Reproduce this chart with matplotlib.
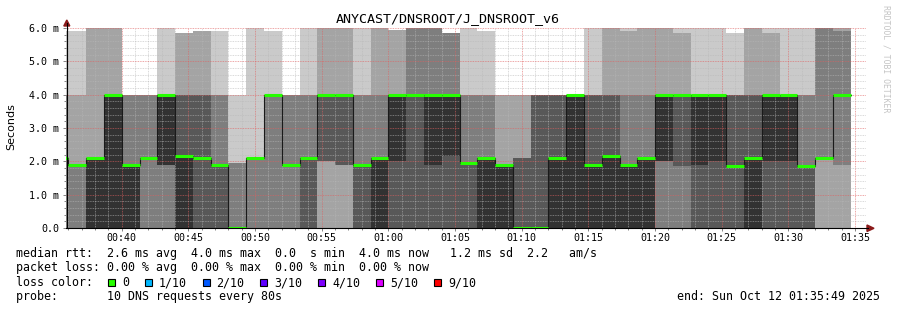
import numpy as np
import matplotlib
matplotlib.use("Agg")
import matplotlib.pyplot as plt
from matplotlib.ticker import MultipleLocator, FuncFormatter
from matplotlib.patches import Rectangle, Polygon

# smokeping style graph: 10 pings per 80s step, sorted rtt in ms
W, H = 897, 310

title = "ANYCAST/DNSROOT/J_DNSROOT_v6"
step_start = 34 * 60 + 40      # first step 00:34:40 (seconds after midnight)
step_len = 80
view_start = 35 * 60 + 49      # 00:35:49
view_end = 95 * 60 + 49        # 01:35:49

pings = [
    [0, 0, 0, 2.1, 2.1, 2.1, 2.1, 4, 4, 5.9],
    [0, 0, 0, 1.9, 1.9, 1.9, 1.9, 1.9, 4, 5.9],
    [0, 0, 0, 0, 0, 2.1, 2.1, 2.1, 6, 6],
    [0, 0, 0, 0, 0, 4, 4, 4, 6, 6],
    [0, 0, 0, 0, 0, 1.9, 1.9, 4, 4, 4],
    [0, 0, 0, 2.1, 2.1, 2.1, 2.1, 4, 4, 4],
    [0, 0, 0, 1.9, 1.9, 4, 4, 4, 4, 6],
    [0, 0, 0, 0, 0, 2.15, 4, 4, 5.85, 5.85],
    [0, 0, 0, 0, 2.1, 2.1, 4, 4, 5.9, 5.9],
    [0, 0, 0, 0, 1.9, 1.9, 1.9, 4, 4, 5.9],
    [0, 0, 0, 0, 0, 0, 0, 1.95, 1.95, 4],
    [0, 0, 0, 2.1, 2.1, 2.1, 2.1, 2.1, 2.1, 6],
    [0, 0, 0, 4, 4, 4, 4, 4, 4, 5.9],
    [0, 0, 0, 1.9, 1.9, 1.9, 1.9, 4, 4, 4],
    [0, 0, 0, 0, 2.1, 2.1, 2.1, 4, 4, 6],
    [0, 0, 2, 2, 4, 4, 4, 4, 6, 6],
    [0, 0, 1.9, 1.9, 4, 4, 4, 4, 6, 6],
    [0, 0, 0, 0, 1.9, 1.9, 1.9, 4, 4, 6],
    [0, 0, 0, 0, 0, 2.1, 2.1, 4, 6, 6],
    [0, 0, 0, 0, 2, 4, 4, 4, 5.95, 5.95],
    [0, 0, 0, 0, 4, 4, 4, 6, 6, 6],
    [0, 0, 0, 0, 1.9, 4, 4, 6, 6, 6],
    [0, 0, 0, 0, 2.15, 4, 4, 5.85, 5.85, 5.85],
    [0, 0, 0, 0, 1.94, 1.94, 1.94, 4, 4, 6],
    [0, 0, 0, 0, 0, 2.1, 2.1, 4, 4, 5.9],
    [0, 0, 0, 0, 0, 1.9, 1.9, 1.9, 4, 4],
    [0, 0, 0, 0, 0, 0, 2.1, 2.1, 4, 4],
    [0, 0, 0, 0, 0, 0, 4, 4, 4, 4],
    [0, 0, 0, 0, 0, 2.1, 4, 4, 4, 4],
    [0, 0, 0, 0, 0, 4, 4, 4, 4, 4],
    [0, 0, 0, 0, 0, 1.9, 4, 4, 4, 6],
    [0, 0, 0, 0, 0, 2.15, 4, 4, 6, 6],
    [0, 0, 0, 0, 0, 1.9, 1.9, 4, 5.9, 6],
    [0, 0, 0, 0, 0, 2.1, 2.1, 4, 6, 6],
    [0, 0, 0, 2, 2, 4, 4, 4, 6, 6],
    [0, 0, 0, 1.85, 4, 4, 4, 4, 5.85, 6],
    [0, 0, 0, 0, 1.9, 4, 4, 4, 4, 6],
    [0, 0, 0, 0, 2, 4, 4, 4, 4, 6],
    [0, 0, 0, 0, 1.85, 1.85, 4, 4, 4, 5.85],
    [0, 0, 0, 0, 0, 2.1, 4, 4, 6, 6],
    [0, 0, 0, 0, 2, 4, 4, 4, 5.85, 6],
    [0, 0, 0, 0, 2, 4, 4, 4, 4, 6],
    [0, 0, 0, 0, 1.85, 1.85, 1.85, 4, 4, 6],
    [0, 0, 2.1, 2.1, 2.1, 2.1, 2.1, 6, 6, 6],
    [0, 0, 1.9, 4, 4, 4, 4, 5.9, 6, 6],
]

smoke_cols = ["#cacaca", "#a4a4a4", "#7e7e7e", "#585858", "#323232"]
loss_labels = ["0", "1/10", "2/10", "3/10", "4/10", "5/10", "9/10"]
loss_cols = ["#26ff00", "#00b8ff", "#0059ff", "#5e00ff", "#7e00ff", "#dd00ff", "#ff0000"]

rtt_line = "median rtt:  2.6 ms avg  4.0 ms max  0.0  s min  4.0 ms now   1.2 ms sd  2.2   am/s"
loss_line = "packet loss: 0.00 % avg  0.00 % max  0.00 % min  0.00 % now"
probe_line = "probe:       10 DNS requests every 80s"
end_line = "end: Sun Oct 12 01:35:49 2025"

MONO = "DejaVu Sans Mono"


def fx(px):
    return px / W


def fy(py):
    return 1 - py / H


p = np.array(pings, dtype=float)
t = step_start + step_len * np.arange(len(p))
edges = np.append(t, t[-1] + step_len)

fig = plt.figure(figsize=(W / 100, H / 100), dpi=100)
ax = fig.add_axes([fx(66), fy(228), 800 / W, 200 / H])

# smoke bands, outer first, inner ones paint over
for i, col in enumerate(smoke_cols):
    lo = np.append(p[:, i], p[-1, i])
    hi = np.append(p[:, 9 - i], p[-1, 9 - i])
    ax.fill_between(edges, lo, hi, step="post", color=col, lw=0, zorder=1)

# median (smokeping takes the upper middle of the sorted pings)
med = p[:, 5]
ax.step(edges, np.append(med, med[-1]), where="post", color="#1a1a1a", lw=0.8, zorder=3)
ax.hlines(med, t, t + step_len, color=loss_cols[0], lw=2.2, zorder=4)

ax.set_xlim(view_start, view_end)
ax.set_ylim(0, 6.0)

ax.xaxis.set_major_locator(MultipleLocator(300))
ax.xaxis.set_minor_locator(MultipleLocator(60))
ax.yaxis.set_major_locator(MultipleLocator(1))
ax.yaxis.set_minor_locator(MultipleLocator(0.2))
ax.xaxis.set_major_formatter(FuncFormatter(lambda s, pos: "%02d:%02d" % (s // 3600, s % 3600 // 60)))
ax.yaxis.set_major_formatter(FuncFormatter(lambda v, pos: "0.0" if v == 0 else "%.1f m" % v))

ax.set_axisbelow(False)
ax.grid(which="minor", color="#b8b8b8", ls=(0, (1, 1)), lw=0.6, alpha=0.7)
ax.grid(which="major", color="#e06060", ls=(0, (1, 1)), lw=0.6, alpha=0.75)

for s in ax.spines.values():
    s.set_visible(False)
ax.tick_params(which="both", direction="out", color="#707070", width=0.6, labelsize=7.2)
ax.tick_params(which="major", length=2.5, pad=2.5)
ax.tick_params(axis="x", which="major", pad=1.2)
ax.tick_params(which="minor", length=1.2)
for lab in ax.get_xticklabels() + ax.get_yticklabels():
    lab.set_family(MONO)

# axes lines with arrows like rrdtool
fig.add_artist(plt.Line2D([fx(66.5), fx(66.5)], [fy(228), fy(23)], color="black", lw=0.8))
fig.add_artist(plt.Line2D([fx(66), fx(868)], [fy(228.3), fy(228.3)], color="black", lw=0.8))
fig.add_artist(Polygon([(fx(63.8), fy(26)), (fx(69.8), fy(26)), (fx(66.8), fy(20))],
                       closed=True, color="#8b1a1a", transform=fig.transFigure))
fig.add_artist(Polygon([(fx(867), fy(225)), (fx(867), fy(231.5)), (fx(874), fy(228.3))],
                       closed=True, color="#8b1a1a", transform=fig.transFigure))

fig.text(fx(448), fy(19), title, ha="center", va="center", family=MONO, fontsize=9.6)
fig.text(fx(11), fy(127), "Seconds", rotation=90, ha="center", va="center",
         family="DejaVu Sans", fontsize=8)
fig.text(fx(886), fy(59), "RRDTOOL / TOBI OETIKER", rotation=270, ha="center", va="center",
         family=MONO, fontsize=5.9, color="#c4c4c4")

# legend block under the graph
fs = 8.4
cw = 7.034
fig.text(fx(16), fy(254), rtt_line, ha="left", va="center", family=MONO, fontsize=fs)
fig.text(fx(16), fy(268), loss_line, ha="left", va="center", family=MONO, fontsize=fs)
fig.text(fx(16), fy(282.5), "loss color:", ha="left", va="center", family=MONO, fontsize=fs)
fig.text(fx(16), fy(296.5), probe_line, ha="left", va="center", family=MONO, fontsize=fs)
fig.text(fx(880), fy(296), end_line, ha="right", va="center", family=MONO, fontsize=fs)

bx = 108
for lab, col in zip(loss_labels, loss_cols):
    fig.add_artist(Rectangle((fx(bx), fy(286)), 7 / W, 7 / H, transform=fig.transFigure,
                             facecolor=col, edgecolor="black", lw=0.8))
    fig.text(fx(bx + 14), fy(282.5), lab, ha="left", va="center", family=MONO, fontsize=fs)
    bx = bx + 14 + len(lab) * cw + 15.7

fig.savefig("out.png", dpi=100, facecolor="white")
